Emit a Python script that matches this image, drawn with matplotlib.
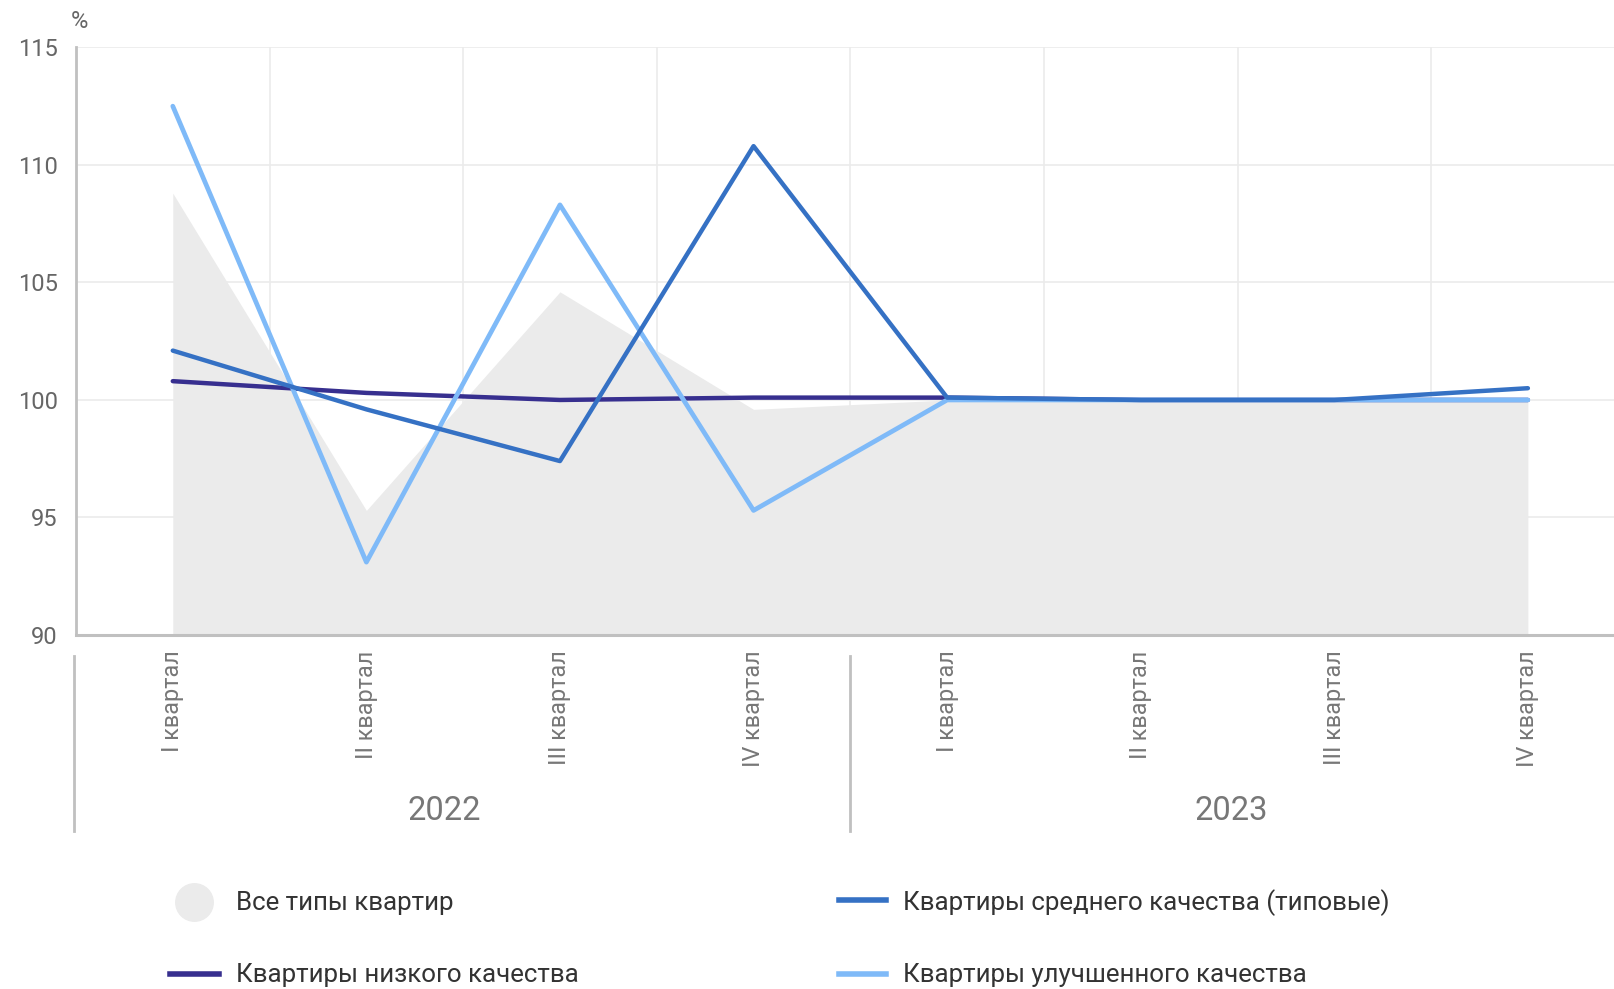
import matplotlib.pyplot as plt
from matplotlib.lines import Line2D

plt.rcParams['font.family'] = ['Roboto', 'DejaVu Sans']

quarters = ['I квартал', 'II квартал', 'III квартал', 'IV квартал'] * 2
years = ['2022', '2023']

all_types = [108.8, 95.3, 104.6, 99.6, 100.0, 100.0, 100.0, 100.0]
low_q = [100.8, 100.3, 100.0, 100.1, 100.1, 100.0, 100.0, 100.0]
mid_q = [102.1, 99.6, 97.4, 110.8, 100.1, 100.0, 100.0, 100.5]
improved_q = [112.5, 93.1, 108.3, 95.3, 100.0, 100.0, 100.0, 100.0]

labels = ['Все типы квартир', 'Квартиры низкого качества',
          'Квартиры среднего качества (типовые)', 'Квартиры улучшенного качества']
c_fill = '#ebebeb'
c_low = '#372f8f'
c_mid = '#3571c4'
c_imp = '#7fbaf8'

W, H = 1615, 989
fig = plt.figure(figsize=(W / 100, H / 100), dpi=100)
ax = fig.add_axes([76 / W, 1 - 635 / H, 1 - 76 / W, (635 - 47.4) / H])

x = list(range(len(quarters)))
ax.fill_between(x, 90, all_types, color=c_fill, zorder=1, lw=0)
ax.plot(x, low_q, color=c_low, lw=3.2, solid_capstyle='round', zorder=3)
ax.plot(x, improved_q, color=c_imp, lw=3.4, solid_capstyle='round', zorder=4)
ax.plot(x, mid_q, color=c_mid, lw=3.2, solid_capstyle='round', zorder=5)

ax.set_xlim(-0.5, 7.45)
ax.set_ylim(90, 115)
ax.set_yticks([90, 95, 100, 105, 110, 115])
ax.set_xticks(x)
ax.set_xticklabels(quarters, rotation=90, va='top', ha='center')
ax.set_xticks([i + 0.5 for i in range(7)], minor=True)
ax.set_axisbelow(True)
ax.grid(True, axis='y', color='#ebebeb', lw=1.2)
ax.grid(True, axis='x', which='minor', color='#ebebeb', lw=1.2)
ax.tick_params(axis='both', which='both', length=0)
ax.tick_params(axis='y', labelsize=17, labelcolor='#666666', pad=13)
ax.tick_params(axis='x', labelsize=16.8, labelcolor='#777777', pad=11)
for s in ['top', 'right']:
    ax.spines[s].set_visible(False)
ax.spines['left'].set_color('#c0c0c0')
ax.spines['left'].set_linewidth(2)
ax.spines['bottom'].set_color('#c0c0c0')
ax.spines['bottom'].set_linewidth(2.2)

# year groups
tr = ax.get_xaxis_transform()
for sx in [-0.51, 3.5]:
    ax.plot([sx, sx], [-0.036, -0.334], transform=tr, color='#c0c0c0', lw=2, clip_on=False)
for yx, yl in zip([1.4, 5.47], years):
    ax.text(yx, -0.3, yl, transform=tr, ha='center', va='center', fontsize=23.5, color='#777777')

fig.text(79 / W, 1 - 21 / H, '%', ha='center', va='center', fontsize=17, color='#666666')

# legend
def leg_line(x0, x1, y, color):
    fig.add_artist(Line2D([x0 / W, x1 / W], [1 - y / H, 1 - y / H], color=color, lw=4))

fig.add_artist(Line2D([194 / W], [1 - 902 / H], marker='o', markersize=27, color=c_fill, lw=0))
leg_line(170, 219, 974, c_low)
leg_line(839, 886, 900, c_mid)
leg_line(839, 886, 974, c_imp)
for tx, ty, t in [(236, 903, labels[0]), (236, 975, labels[1]),
                  (903, 903, labels[2]), (903, 975, labels[3])]:
    fig.text(tx / W, 1 - ty / H, t, ha='left', va='center', fontsize=18.6, color='#333333')

fig.savefig('out.png', dpi=100)
